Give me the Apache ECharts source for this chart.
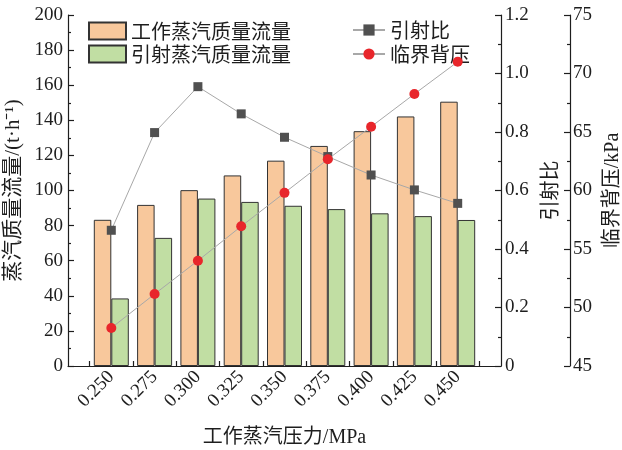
<!DOCTYPE html>
<html>
<head>
<meta charset="utf-8">
<script src="https://cdn.jsdelivr.net/npm/echarts@6/dist/echarts.min.js"></script>
<style>
  html, body { margin: 0; padding: 0; background: #ffffff; overflow: hidden; }
  #chart { width: 622px; height: 450px; }
</style>
</head>
<body>
<div id="chart"></div>
<script>
// Working steam pressure (MPa)
const pressures = ['0.250', '0.275', '0.300', '0.325', '0.350', '0.375', '0.400', '0.425', '0.450'];
// Working steam mass flow (t/h)
const workFlow = [83.3, 91.8, 100.2, 108.6, 117.0, 125.4, 133.8, 142.2, 150.6];
// Entrained steam mass flow (t/h)
const entrainedFlow = [38.5, 73.0, 95.4, 93.5, 91.3, 89.4, 87.0, 85.4, 83.2];
// Entrainment ratio
const entrainRatio = [0.464, 0.798, 0.955, 0.862, 0.782, 0.716, 0.653, 0.602, 0.556];
// Critical back pressure (kPa)
const criticalBP = [48.25, 51.15, 54.0, 56.94, 59.8, 62.67, 65.45, 68.25, 71.0];

const leftTicks = { min: 0, max: 200, interval: 20 };
const ratioTicks = { min: 0, max: 1.2, interval: 0.2 };
const bpTicks = { min: 45, max: 75, interval: 5 };

// half-step padding on each side of the pressure axis
const cats = [''].concat(pressures, ['']);
const pad = arr => [null].concat(arr, [null]);

const SERIF = '"Liberation Serif", "Times New Roman", "Noto Sans CJK SC", serif';
const MIXED = '"Liberation Serif", "Noto Sans CJK SC", serif';
const CJK = '"Noto Sans CJK SC", "Liberation Serif", sans-serif';
const INK = '#1e1e1e';
const axisLine = { show: true, lineStyle: { color: '#1e1e1e', width: 1.2 } };
const tickStyle = { color: '#1e1e1e', width: 1.2 };

const chart = echarts.init(document.getElementById('chart'), null, { renderer: 'canvas' });

chart.setOption({
  backgroundColor: '#ffffff',
  animation: false,
  grid: { left: 68, right: 121, top: 15, bottom: 84, containLabel: false, outerBoundsMode: 'none' },
  legend: [
    {
      data: [{ name: '工作蒸汽质量流量', icon: 'rect' }, { name: '引射蒸汽质量流量', icon: 'rect' }],
      orient: 'vertical', left: 88, top: 21, itemGap: 3, padding: 0,
      itemWidth: 37, itemHeight: 17,
      textStyle: { fontFamily: CJK, fontSize: 20, color: INK }
    },
    {
      data: ['引射比', '临界背压'],
      orient: 'vertical', left: 352, top: 20, itemGap: 4, padding: 0,
      itemWidth: 32, itemHeight: 14,
      textStyle: { fontFamily: CJK, fontSize: 20, color: INK }
    }
  ],
  xAxis: [
    {
      type: 'category', data: cats, boundaryGap: false, position: 'bottom',
      axisLine: axisLine,
      axisTick: { show: false },
      axisLabel: { rotate: 45, margin: 8, fontFamily: SERIF, fontSize: 19, color: INK, interval: 0 },
      splitLine: { show: false },
      name: '工作蒸汽压力/MPa', nameLocation: 'middle', nameGap: 62,
      nameTextStyle: { fontFamily: MIXED, fontSize: 20, color: INK }
    },
    {
      // carries the minor ticks between pressure levels
      type: 'value', min: 0.225, max: 0.475, interval: 0.025, position: 'bottom',
      axisLine: { show: false },
      axisTick: { show: false, inside: true },
      minorTick: { show: true, splitNumber: 2, length: 5, lineStyle: tickStyle },
      axisLabel: { show: false },
      splitLine: { show: false }, minorSplitLine: { show: false }
    }
  ],
  yAxis: [
    {
      type: 'value', position: 'left', min: leftTicks.min, max: leftTicks.max, interval: leftTicks.interval,
      axisLine: axisLine,
      axisTick: { show: true, inside: true, length: 6, lineStyle: tickStyle },
      minorTick: { show: true, splitNumber: 2, length: 3, lineStyle: tickStyle },
      axisLabel: { margin: 5, fontFamily: SERIF, fontSize: 19, color: INK },
      splitLine: { show: false },
      name: '蒸汽质量流量/(t·h⁻¹)', nameLocation: 'middle', nameRotate: 90, nameGap: 39,
      nameTextStyle: { fontFamily: MIXED, fontSize: 21, color: INK }
    },
    {
      type: 'value', position: 'right', offset: 0, min: ratioTicks.min, max: ratioTicks.max, interval: ratioTicks.interval,
      axisLine: axisLine,
      axisTick: { show: true, inside: true, length: 6, lineStyle: tickStyle },
      minorTick: { show: true, splitNumber: 2, length: 3, lineStyle: tickStyle },
      axisLabel: { margin: 4, fontFamily: SERIF, fontSize: 19, color: INK,
        formatter: v => (v === 0 ? '0' : v.toFixed(1)) },
      splitLine: { show: false },
      name: '引射比', nameLocation: 'middle', nameRotate: 90, nameGap: 36,
      nameTextStyle: { fontFamily: CJK, fontSize: 20, color: INK }
    },
    {
      type: 'value', position: 'right', offset: 69, min: bpTicks.min, max: bpTicks.max, interval: bpTicks.interval,
      axisLine: axisLine,
      axisTick: { show: true, inside: true, length: 6, lineStyle: tickStyle },
      minorTick: { show: true, splitNumber: 2, length: 3, lineStyle: tickStyle },
      axisLabel: { margin: 3, fontFamily: SERIF, fontSize: 19, color: INK },
      splitLine: { show: false },
      name: '临界背压/kPa', nameLocation: 'middle', nameRotate: 90, nameGap: 33,
      nameTextStyle: { fontFamily: MIXED, fontSize: 20, color: INK }
    }
  ],
  series: [
    {
      name: '工作蒸汽质量流量', type: 'bar', xAxisIndex: 0, yAxisIndex: 0,
      data: pad(workFlow), barWidth: 17.5, barGap: '0%',
      itemStyle: { color: '#f8c89c', borderColor: '#333333', borderWidth: 1 }
    },
    {
      name: '引射蒸汽质量流量', type: 'bar', xAxisIndex: 0, yAxisIndex: 0,
      data: pad(entrainedFlow), barWidth: 17.5, barGap: '0%',
      itemStyle: { color: '#c1dea3', borderColor: '#333333', borderWidth: 1 }
    },
    {
      name: '引射比', type: 'line', xAxisIndex: 0, yAxisIndex: 1,
      data: pad(entrainRatio), symbol: 'rect', symbolSize: 9,
      lineStyle: { color: '#a8a8a8', width: 1 },
      itemStyle: { color: '#505050' }, z: 3
    },
    {
      name: '临界背压', type: 'line', xAxisIndex: 0, yAxisIndex: 2,
      data: pad(criticalBP), symbol: 'circle', symbolSize: 10,
      lineStyle: { color: '#a8a8a8', width: 1 },
      itemStyle: { color: '#e8262b' }, z: 4
    }
  ]
});
</script>
</body>
</html>
